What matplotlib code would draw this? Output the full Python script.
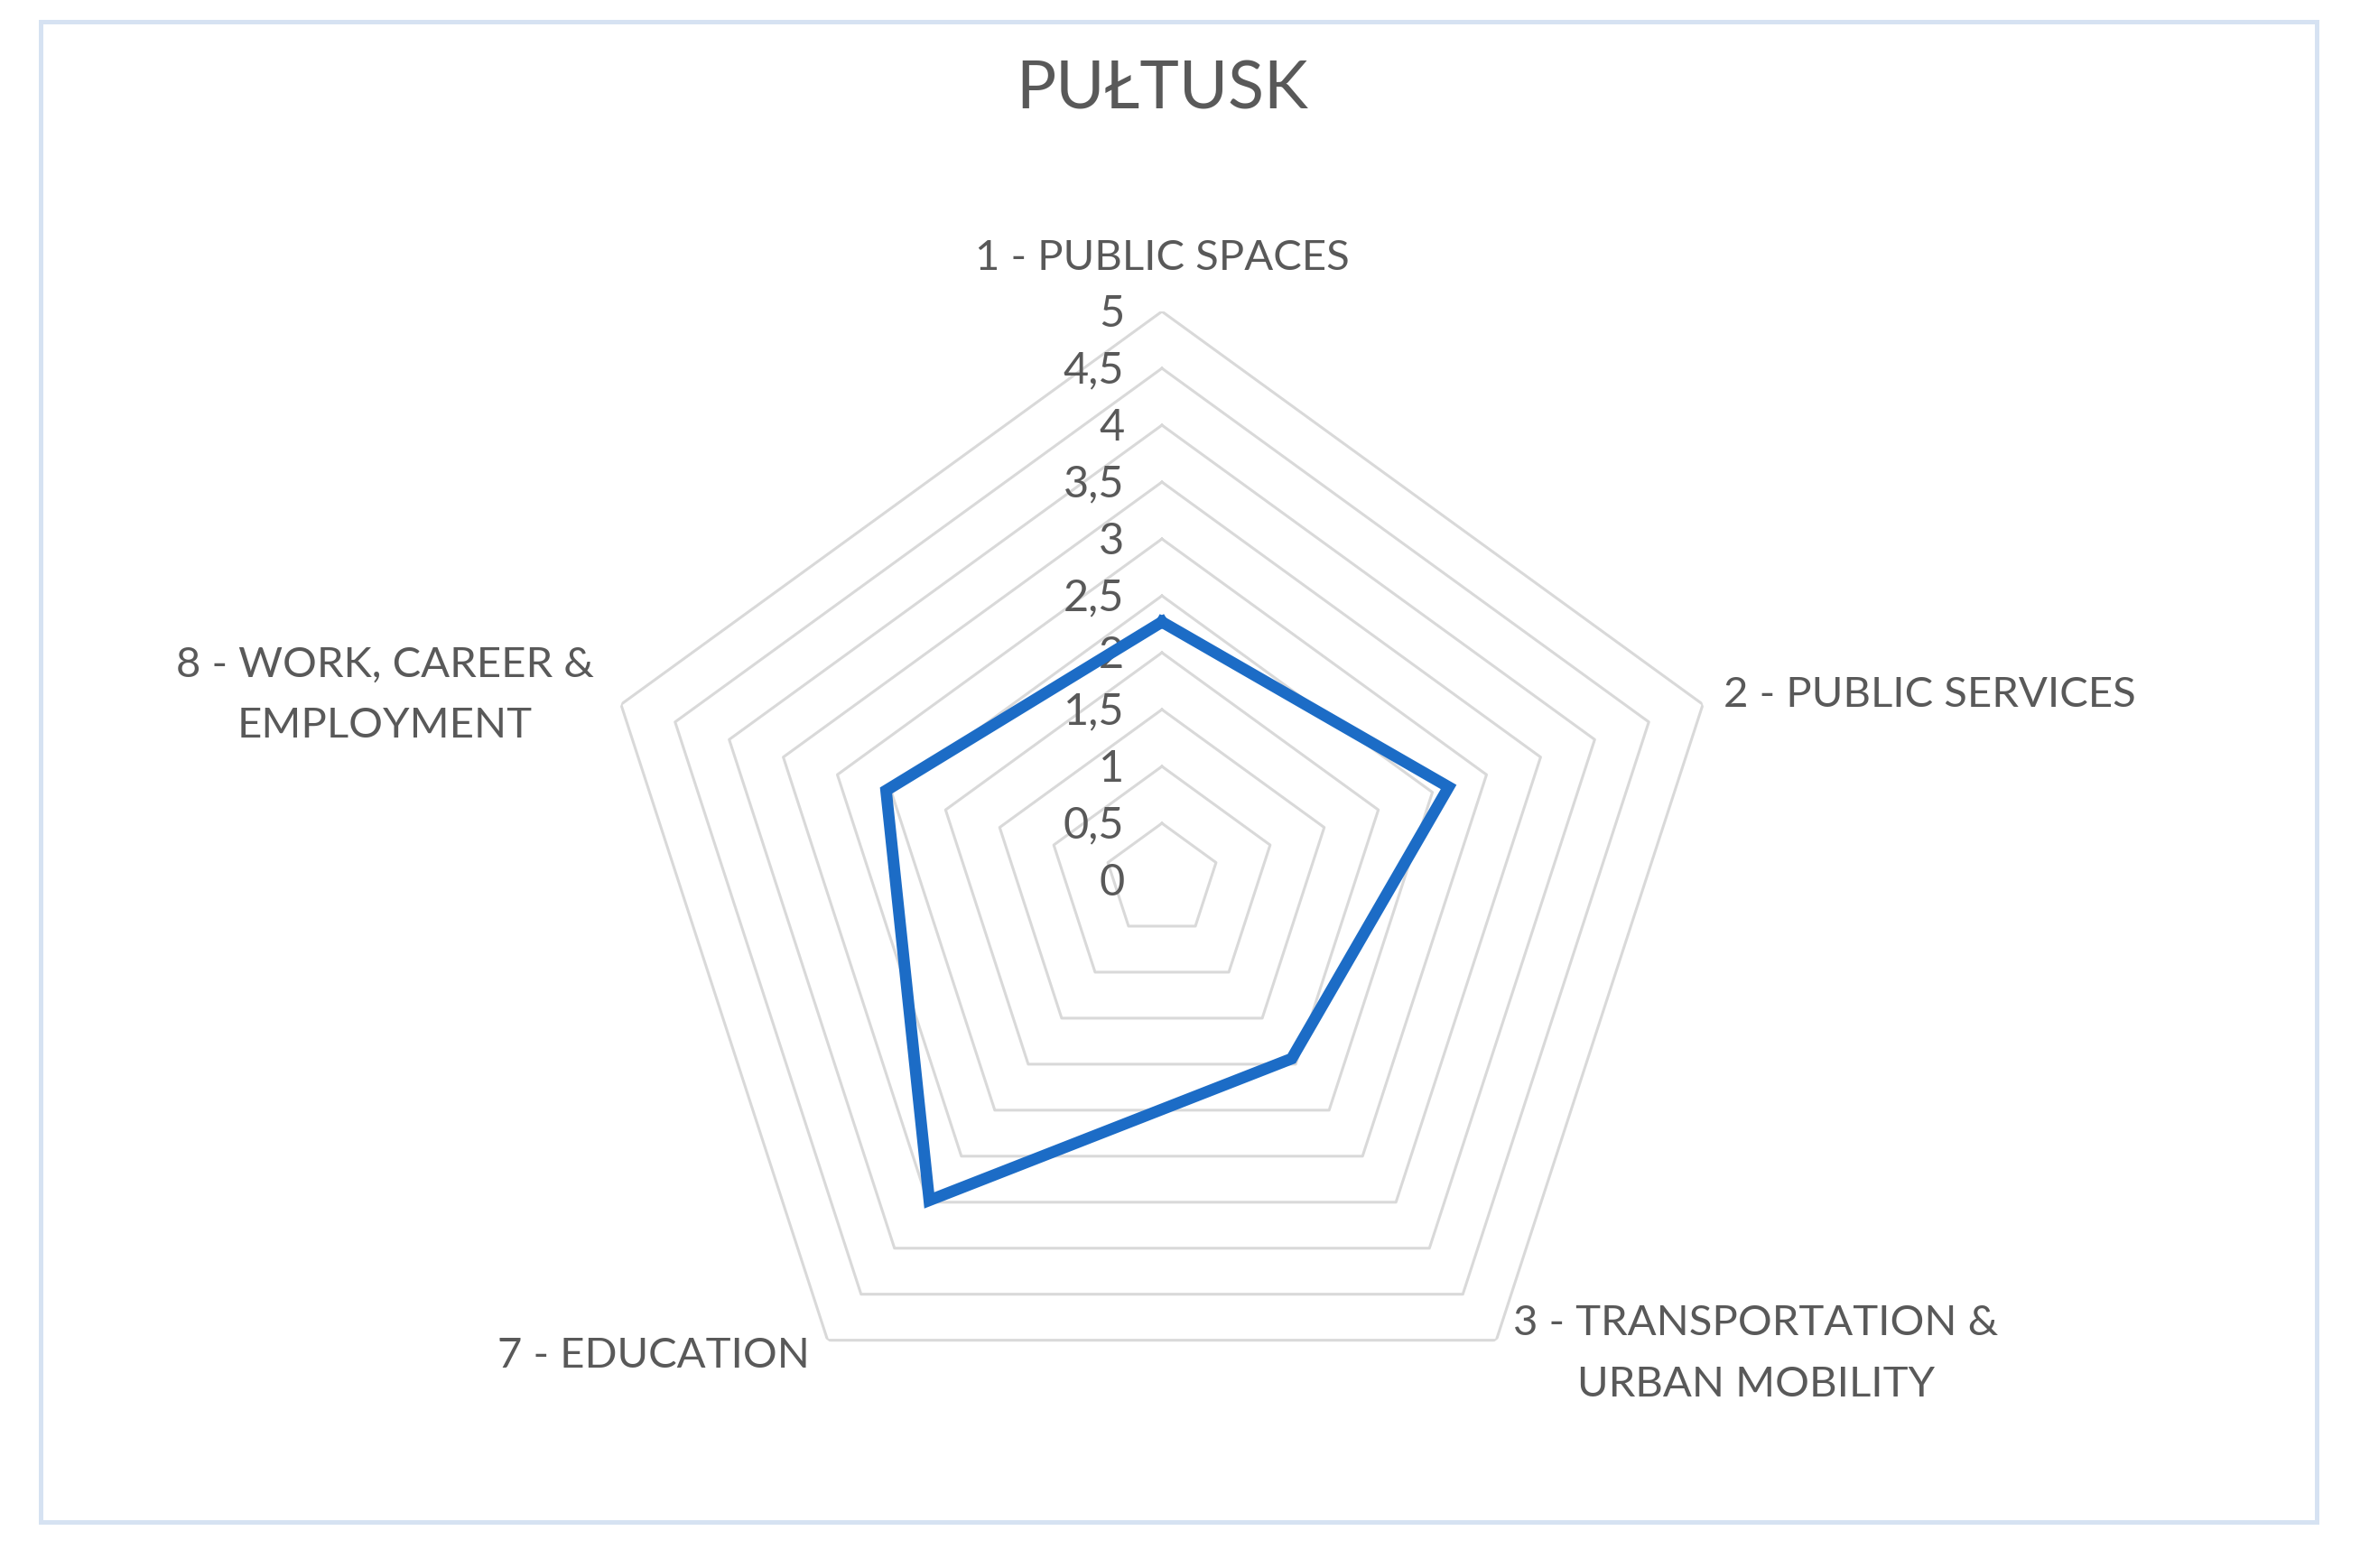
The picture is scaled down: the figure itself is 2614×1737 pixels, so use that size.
import numpy as np
import matplotlib
matplotlib.use('Agg')
import matplotlib.pyplot as plt
from matplotlib.patches import Rectangle

plt.rcParams['font.family'] = ['Lato', 'DejaVu Sans']

title = 'PUŁTUSK'
categories = ['1 - PUBLIC SPACES', '2 - PUBLIC SERVICES',
              '3 - TRANSPORTATION &\nURBAN MOBILITY', '7 - EDUCATION',
              '8 - WORK, CAREER &\nEMPLOYMENT']
values = [2.27, 2.65, 1.94, 3.48, 2.55]
rings = [0.5, 1, 1.5, 2, 2.5, 3, 3.5, 4, 4.5, 5]
ring_labels = ['0', '0,5', '1', '1,5', '2', '2,5', '3', '3,5', '4', '4,5', '5']

W, H = 2614, 1737
dpi = 200
fig = plt.figure(figsize=(W / dpi, H / dpi), dpi=dpi)

# light blue chart border
fig.patches.append(Rectangle((45 / W, 1 - 1686 / H), 2521 / W, 1662 / H,
                             transform=fig.transFigure, fill=False,
                             edgecolor='#D6E2F2', linewidth=1.8))

cx, cy, R = 1287, 975, 630
ax = fig.add_axes([(cx - R) / W, (H - cy - R) / H, 2 * R / W, 2 * R / H],
                  projection='polar')
ax.set_theta_zero_location('N')
ax.set_theta_direction(-1)
ax.set_ylim(0, 5)
ax.grid(False)
ax.spines['polar'].set_visible(False)
ax.set_xticks([])
ax.set_yticks([])
ax.patch.set_alpha(0)

n = len(categories)
theta = np.linspace(0, 2 * np.pi, n, endpoint=False)
theta_c = np.append(theta, theta[0])

for r in rings:
    ax.plot(theta_c, [r] * (n + 1), color='#D9D9D9', lw=1.1, zorder=1)

vals = values + values[:1]
ax.plot(theta_c, vals, color='#1C6CC6', lw=4.6, solid_joinstyle='miter',
        zorder=3)

# value labels along the top spoke
for i, lab in enumerate(ring_labels):
    ax.annotate(lab, xy=(0, i * 0.5), xytext=(-15, -1),
                textcoords='offset points', ha='right', va='center',
                fontsize=17.5, color='#595959', zorder=2)

# category labels
lab_pos = [(0, 5.47, 'center'), (np.deg2rad(71.8), 5.2, 'left'),
           (np.deg2rad(128.6), 6.68, 'center'),
           (np.deg2rad(216.5), 5.2, 'right'),
           (np.deg2rad(283.4), 7.02, 'center')]
for (t, r, ha), lab in zip(lab_pos, categories):
    ax.text(t, r, lab, ha=ha, va='center', fontsize=17, color='#595959',
            linespacing=1.75, clip_on=False)

fig.text(cx / W, 1 - 100 / H, title, ha='center', va='center',
         fontsize=26.5, color='#595959')

fig.savefig('out.png', dpi=dpi, facecolor='white')
